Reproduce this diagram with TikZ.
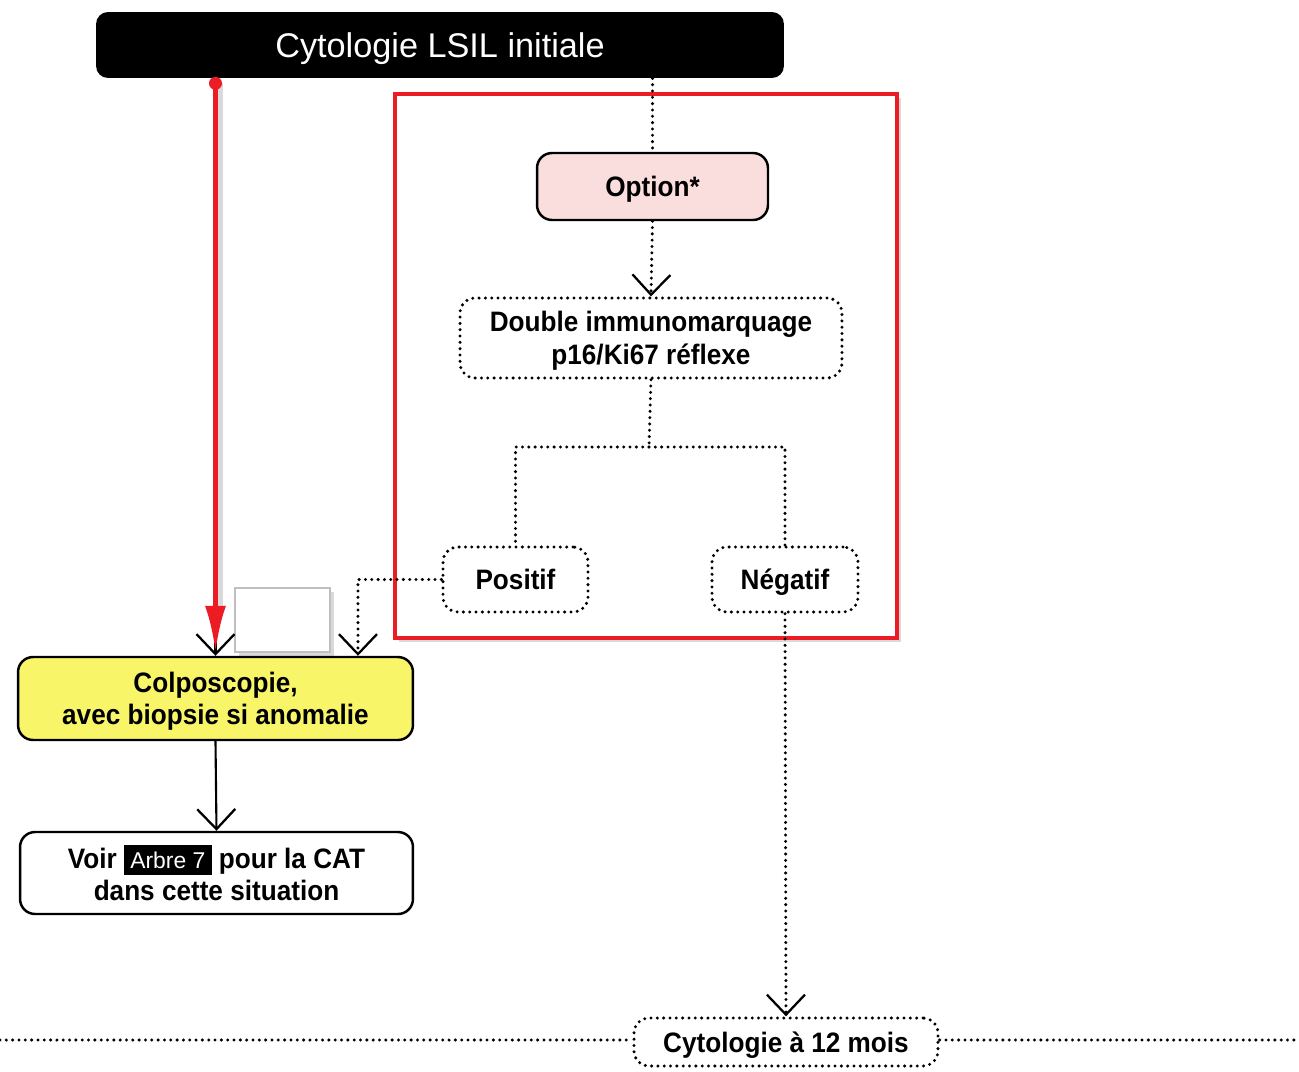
\documentclass[tikz,border=0pt]{standalone}
\usepackage{fontspec}
\setmainfont{Liberation Sans}[BoldFeatures={FakeStretch=0.93}]
\usetikzlibrary{arrows.meta,shadows,calc}
\definecolor{alertred}{RGB}{236,28,36}
\definecolor{optpink}{RGB}{250,222,222}
\definecolor{hiyellow}{RGB}{248,246,104}
\begin{document}
\begin{tikzpicture}[x=0.02cm,y=-0.02cm,
  box/.style={rounded corners=0.3cm, align=center, inner sep=0pt, text depth=0pt,
    font=\bfseries\fontsize{16}{18.5}\selectfont},
  solidbox/.style={box, draw=black, line width=1.4pt},
  dotbox/.style={box, draw=black, line width=1.9pt, dash pattern=on 0pt off 3.6pt, line cap=round},
  dotline/.style={line width=1.9pt, dash pattern=on 0pt off 3.6pt, line cap=round},
  solidline/.style={line width=1.2pt},
  vtip/.style={-{Straight Barb[length=0.4cm,width=0.76cm,line width=1.3pt]}},
  softshadow/.style={drop shadow={shadow xshift=2pt, shadow yshift=-2pt, opacity=0.25, fill=black!60}}
]
\useasboundingbox (0,0) rectangle (1299,1072);

% highlighted option frame
\draw[alertred, fill=white, line width=1.8pt, softshadow] (395,94) rectangle (897,638);

% nodes
\node[fill=black, rounded corners=0.24cm, minimum width=13.76cm, minimum height=1.32cm,
  text=white, inner sep=0pt, text depth=0pt, font=\fontsize{19.5}{22}\selectfont] (top) at (440,45) {Cytologie LSIL initiale};
\node[solidbox, fill=optpink, minimum width=4.62cm, minimum height=1.34cm] (option) at (652.5,186.5) {Option*};
\node[dotbox, minimum width=7.64cm, minimum height=1.6cm] (double) at (651,338) {Double immunomarquage\\p16/Ki67 réflexe};
\node[dotbox, minimum width=2.9cm, minimum height=1.3cm] (positif) at (515.5,579.5) {Positif};
\node[dotbox, minimum width=2.92cm, minimum height=1.3cm] (negatif) at (785,579.5) {Négatif};
\node[solidbox, fill=hiyellow, minimum width=7.9cm, minimum height=1.66cm] (colpo) at (215.5,698.5) {Colposcopie,\\avec biopsie si anomalie};
\node[solidbox, fill=white, minimum width=7.86cm, minimum height=1.64cm] (voir) at (216.5,873)
  {Voir {\setlength{\fboxsep}{3.6pt}\colorbox{black}{\color{white}\mdseries\fontsize{13}{13}\selectfont Arbre 7}} pour la CAT\\dans cette situation};
\node[dotbox, minimum width=6.08cm, minimum height=0.96cm] (cyto12) at (786,1042) {Cytologie à 12 mois};
\node[draw=black!25, fill=white, line width=0.6pt, minimum width=1.9cm, minimum height=1.28cm,
  inner sep=0pt, softshadow] (blank) at (282.5,620) {};

% page-wide rule through the follow-up node
\coordinate (ruleL) at (0,1040);
\coordinate (ruleR) at (1299,1040);
\draw[dotline] (ruleL) -- (cyto12.west |- ruleL);
\draw[dotline] (cyto12.east |- ruleR) -- (ruleR);

% connectors
\draw[dotline] (option.north |- top.south) -- (option.north);
\draw[dotline, vtip] (option.south) -- (double.north);
\coordinate (split) at (649,447);
\draw[dotline] (double.south) -- (split);
\draw[dotline] (split) -| (positif.north);
\draw[dotline] (split) -| (negatif.north);
\draw[dotline, vtip] (positif.west) -| ([xshift=2.85cm]colpo.north);
\draw[dotline, vtip] (negatif.south) -- (cyto12.north);
\draw[solidline, vtip] (colpo.south) -- (voir.north);

% direct path to colposcopy, emphasised in red
\draw[solidline, vtip] (top.south -| colpo.north) -- (colpo.north);
\draw[black, opacity=0.15, line width=3pt] ([xshift=3pt,yshift=-0.1cm]top.south -| colpo.north) -- ([xshift=3pt,yshift=1cm]colpo.north);
\draw[alertred, line width=2.6pt, -{Latex[length=0.92cm,width=0.42cm]}] ([yshift=-0.1cm]top.south -| colpo.north) -- ([yshift=0.08cm]colpo.north);
\fill[alertred] ([yshift=-0.1cm]top.south -| colpo.north) circle (0.13cm);
\end{tikzpicture}
\end{document}
